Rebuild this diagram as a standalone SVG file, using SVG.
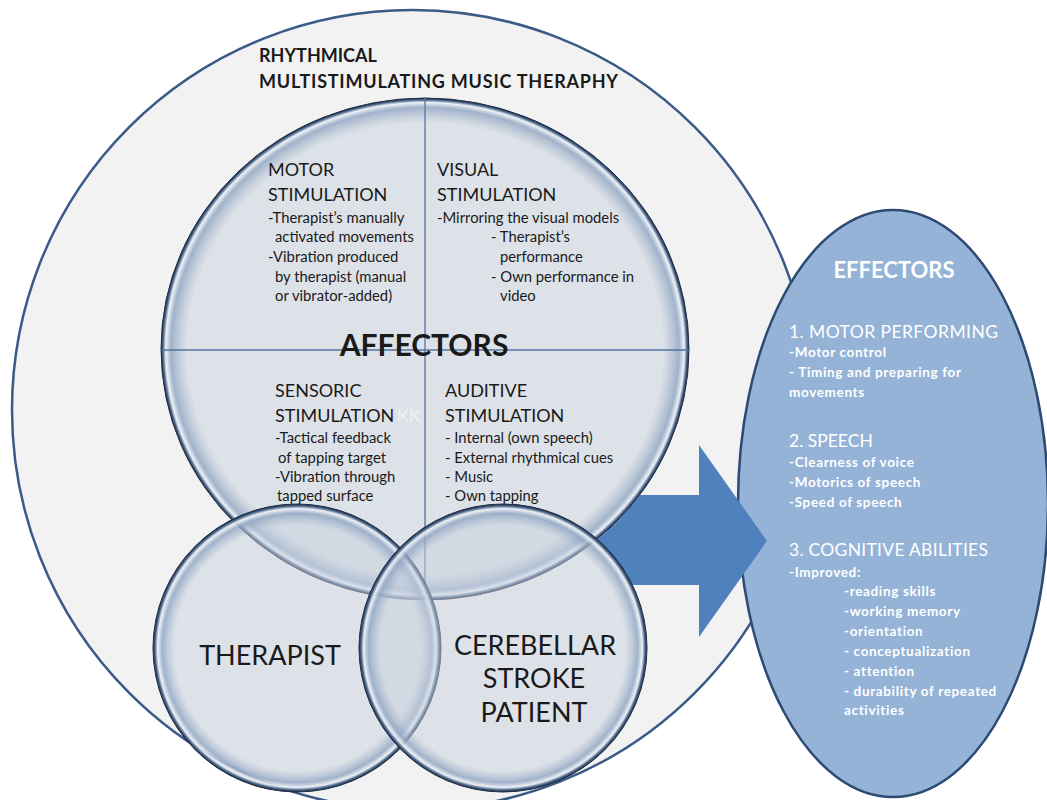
<svg xmlns="http://www.w3.org/2000/svg" width="1047" height="800" viewBox="0 0 1047 800">
  <defs>
    <radialGradient id="glassBig" cx="50%" cy="50%" r="50%">
      <stop offset="0" stop-color="#cad2de" stop-opacity="0.5"/>
      <stop offset="0.9" stop-color="#c8d1de" stop-opacity="0.5"/>
      <stop offset="0.962" stop-color="#91a7c3" stop-opacity="0.85"/>
      <stop offset="0.982" stop-color="#eef2f7" stop-opacity="0.95"/>
      <stop offset="0.992" stop-color="#4f6a8e" stop-opacity="1"/>
      <stop offset="1" stop-color="#1a2940" stop-opacity="1"/>
    </radialGradient>
    <radialGradient id="glassSmall" cx="50%" cy="50%" r="50%">
      <stop offset="0" stop-color="#cad2de" stop-opacity="0.5"/>
      <stop offset="0.85" stop-color="#c8d1de" stop-opacity="0.5"/>
      <stop offset="0.935" stop-color="#91a7c3" stop-opacity="0.85"/>
      <stop offset="0.968" stop-color="#eef2f7" stop-opacity="0.95"/>
      <stop offset="0.985" stop-color="#4f6a8e" stop-opacity="1"/>
      <stop offset="1" stop-color="#1a2940" stop-opacity="1"/>
    </radialGradient>
    <style>
      .glass-big { fill: url(#glassBig); stroke: #1f2e44; stroke-width: 1; }
      .glass-small { fill: url(#glassSmall); stroke: #1f2e44; stroke-width: 1; }
      .axis { stroke: #5573a0; stroke-width: 1.3; }
      .t { font-family: Lato, "Liberation Sans", Arial, sans-serif; fill: #1a1a1a; }
      .title { font-size: 18px; font-weight: bold; }
      .head { font-size: 18px; }
      .body { font-size: 14.8px; }
      .big { font-size: 30px; font-weight: bold; }
      .person { font-size: 27px; }
      .w { font-family: Lato, "Liberation Sans", Arial, sans-serif; fill: #ffffff; }
      .eh { font-size: 17.5px; }
      .eb { font-size: 13.5px; font-weight: bold; letter-spacing: 0.65px; }
    </style>
  </defs>

  <rect width="1047" height="800" fill="#ffffff"/>

  <g id="therapy">
    <circle cx="412" cy="410" r="400" fill="#f2f2f2" stroke="#3a5a88" stroke-width="2.5"/>
    <text class="t title" x="259" y="62">RHYTHMICAL</text>
    <text class="t title" x="259" y="88" textLength="359">MULTISTIMULATING MUSIC THERAPHY</text>
  </g>

  <g id="effectors">
    <ellipse cx="893" cy="503.5" rx="155" ry="293.5" fill="#95b3d7" stroke="#2d4a75" stroke-width="2.5"/>
    <text class="w" x="894" y="278" text-anchor="middle" font-size="22" font-weight="bold">EFFECTORS</text>
    <text class="w eh" x="789" y="338" textLength="209">1. MOTOR PERFORMING</text>
    <text class="w eb" x="789" y="357">-Motor control</text>
    <text class="w eb" x="789" y="377">- Timing and preparing for</text>
    <text class="w eb" x="789" y="397">movements</text>
    <text class="w eh" x="789" y="447">2. SPEECH</text>
    <text class="w eb" x="789" y="467">-Clearness of voice</text>
    <text class="w eb" x="789" y="487">-Motorics of speech</text>
    <text class="w eb" x="789" y="507">-Speed of speech</text>
    <text class="w eh" x="789" y="556" textLength="199">3. COGNITIVE ABILITIES</text>
    <text class="w eb" x="789" y="577">-Improved:</text>
    <text class="w eb" x="844" y="596">-reading skills</text>
    <text class="w eb" x="844" y="616">-working memory</text>
    <text class="w eb" x="844" y="636">-orientation</text>
    <text class="w eb" x="844" y="656">- conceptualization</text>
    <text class="w eb" x="844" y="676">- attention</text>
    <text class="w eb" x="844" y="696">- durability of repeated</text>
    <text class="w eb" x="844" y="715">activities</text>
  </g>

  <g id="connectors">
    <path d="M640,495 L699,495 L699,445 L767,541 L699,637 L699,585 L632.5,585 A144,144 0 0 0 597,540 A264,251 0 0 0 640,495 Z" fill="#4f81bd"/>
  </g>

  <g id="affectors">
    <ellipse class="glass-big" cx="425" cy="349" rx="264" ry="251"/>
    <line class="axis" x1="425" y1="98" x2="425" y2="600"/>
    <line class="axis" x1="161" y1="350" x2="689" y2="350"/>
    <text class="t head" x="268" y="176">MOTOR</text>
    <text class="t head" x="268" y="201">STIMULATION</text>
    <text class="t body" x="268" y="223">-Therapist’s manually</text>
    <text class="t body" x="275" y="242">activated movements</text>
    <text class="t body" x="268" y="262">-Vibration produced</text>
    <text class="t body" x="275" y="282">by therapist (manual</text>
    <text class="t body" x="275" y="301">or vibrator-added)</text>
    <text class="t head" x="437" y="176">VISUAL</text>
    <text class="t head" x="437" y="201">STIMULATION</text>
    <text class="t body" x="437" y="223">-Mirroring the visual models</text>
    <text class="t body" x="491" y="242">- Therapist’s</text>
    <text class="t body" x="500" y="262">performance</text>
    <text class="t body" x="491" y="282">- Own performance in</text>
    <text class="t body" x="500" y="301">video</text>
    <text class="t big" x="424" y="356" text-anchor="middle">AFFECTORS</text>
    <text class="t head" x="275" y="397">SENSORIC</text>
    <text class="t head" x="275" y="422">STIMULATION</text>
    <text x="397" y="422" font-family="Lato, 'Liberation Sans', sans-serif" font-size="18" fill="#edf0f4">KK</text>
    <text class="t body" x="275" y="443">-Tactical feedback</text>
    <text class="t body" x="278" y="463">of tapping target</text>
    <text class="t body" x="275" y="482">-Vibration through</text>
    <text class="t body" x="277" y="501">tapped surface</text>
    <text class="t head" x="445" y="397">AUDITIVE</text>
    <text class="t head" x="445" y="422">STIMULATION</text>
    <text class="t body" x="445" y="443">- Internal (own speech)</text>
    <text class="t body" x="445" y="463">- External rhythmical cues</text>
    <text class="t body" x="445" y="482">- Music</text>
    <text class="t body" x="445" y="501">- Own tapping</text>
  </g>

  <g id="therapist">
    <circle class="glass-small" cx="297" cy="648" r="144"/>
    <text class="t person" x="270" y="665" text-anchor="middle">THERAPIST</text>
  </g>

  <g id="patient">
    <circle class="glass-small" cx="503" cy="648" r="144"/>
    <text class="t person" x="535" y="655" text-anchor="middle">CEREBELLAR</text>
    <text class="t person" x="534" y="688" text-anchor="middle">STROKE</text>
    <text class="t person" x="534" y="722" text-anchor="middle">PATIENT</text>
  </g>
</svg>
